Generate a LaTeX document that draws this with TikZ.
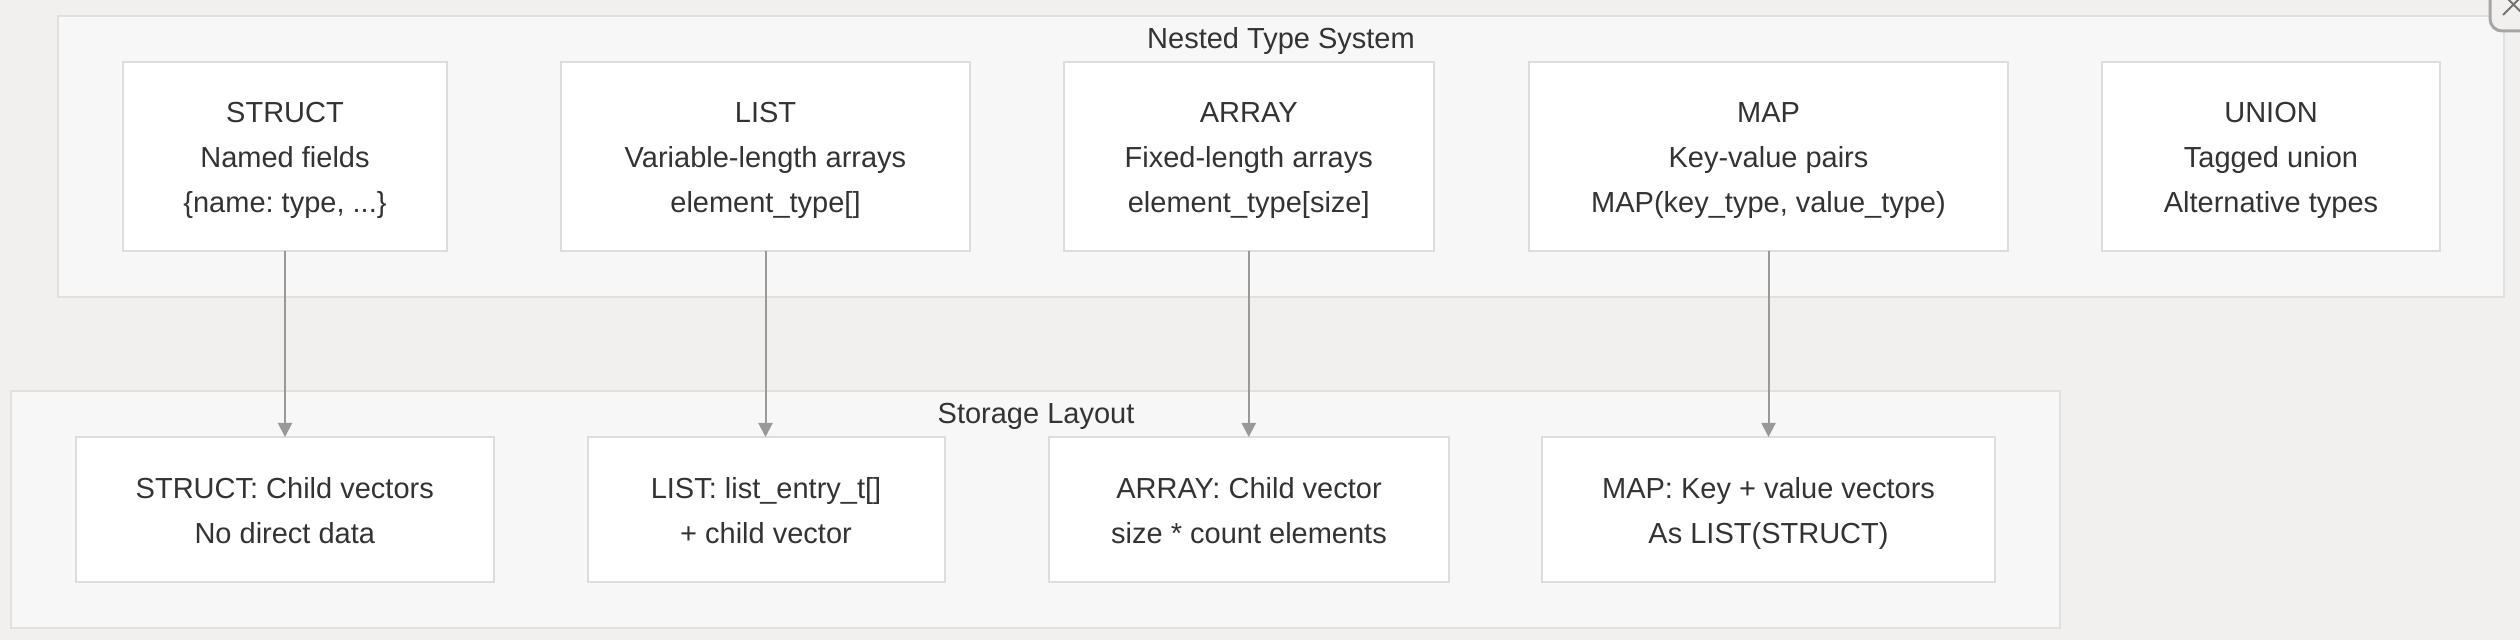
\documentclass[tikz,border=0pt]{standalone}
\usepackage{fontspec}
\setmainfont{Liberation Sans}
\usetikzlibrary{arrows.meta}
\frenchspacing
\definecolor{bgc}{HTML}{F1F0EE}
\definecolor{clfill}{HTML}{F7F7F7}
\definecolor{clline}{HTML}{E0E0E0}
\definecolor{boxline}{HTML}{DDDDDD}
\definecolor{txt}{HTML}{333333}
\definecolor{arr}{HTML}{999999}
\newcommand\mytopstrut{\rule{0pt}{15pt}}
\newcommand\mybotstrut{\rule[-3.5pt]{0pt}{3.5pt}}
\tikzset{
  cluster/.style={draw=clline, fill=clfill, line width=1pt},
  cltitle/.style={text=txt, font=\fontsize{14.5}{17}\selectfont\frenchspacing, inner sep=0pt, anchor=base},
  typebox/.style={draw=boxline, fill=white, line width=1pt, inner sep=0pt, outer sep=0pt,
    align=center, text=txt, font=\fontsize{14.5}{22.5}\selectfont\frenchspacing, minimum height=94.5pt},
  storebox/.style={typebox, minimum height=72.5pt},
  link/.style={draw=arr, line width=1pt, -{Triangle[width=7pt,length=7pt]}}
}
\begin{document}
\begin{tikzpicture}[x=0.5pt,y=-0.5pt]
\useasboundingbox[fill=bgc] (0,0) rectangle (2520,640);
% clusters
\draw[cluster] (58,16) rectangle (2504,297);
\node[cltitle] (t1) at (1281,49) {Nested Type System};
\draw[cluster] (10.5,391) rectangle (2060,628);
\node[cltitle] (t2) at (1036,424) {Storage Layout};
% top nodes
\node[typebox, minimum width=162pt] (s1) at (285,156.5) {\mytopstrut STRUCT\\Named fields\\\{name: type, ...\}\mybotstrut};
\node[typebox, minimum width=204.5pt] (s2) at (765.5,156.5) {\mytopstrut LIST\\Variable-length arrays\\element\_type[]\mybotstrut};
\node[typebox, minimum width=185.25pt] (s3) at (1248.75,156.5) {\mytopstrut ARRAY\\Fixed-length arrays\\element\_type[size]\mybotstrut};
\node[typebox, minimum width=239.5pt] (s4) at (1768.5,156.5) {\mytopstrut MAP\\Key-value pairs\\MAP(key\_type, value\_type)\mybotstrut};
\node[typebox, minimum width=169pt] (s5) at (2271,156.5) {\mytopstrut UNION\\Tagged union\\Alternative types\mybotstrut};
% bottom nodes
\node[storebox, minimum width=209.2pt] (b1) at (284.8,509.5) {\mytopstrut STRUCT: Child vectors\\No direct data\mybotstrut};
\node[storebox, minimum width=178.5pt] (b2) at (766,509.5) {\mytopstrut LIST: list\_entry\_t[]\\+ child vector\mybotstrut};
\node[storebox, minimum width=200pt] (b3) at (1249,509.5) {\mytopstrut ARRAY: Child vector\\size * count elements\mybotstrut};
\node[storebox, minimum width=226.5pt] (b4) at (1768.5,509.5) {\mytopstrut MAP: Key + value vectors\\As LIST(STRUCT)\mybotstrut};
% connectors
\draw[link] (s1.south) -- (s1.south |- b1.north);
\draw[link] (s2.south) -- (s2.south |- b2.north);
\draw[link] (s3.south) -- (s3.south |- b3.north);
\draw[link] (s4.south) -- (s4.south |- b4.north);
% partial corner button
\draw[draw=black!35, line width=1.5pt, rounded corners=6pt, fill=bgc] (2490,-20) rectangle (2540,31);
\draw[draw=black!55, line width=1pt] (2503,15) -- (2524,-6) (2503,-6) -- (2524,15);
\end{tikzpicture}
\end{document}
